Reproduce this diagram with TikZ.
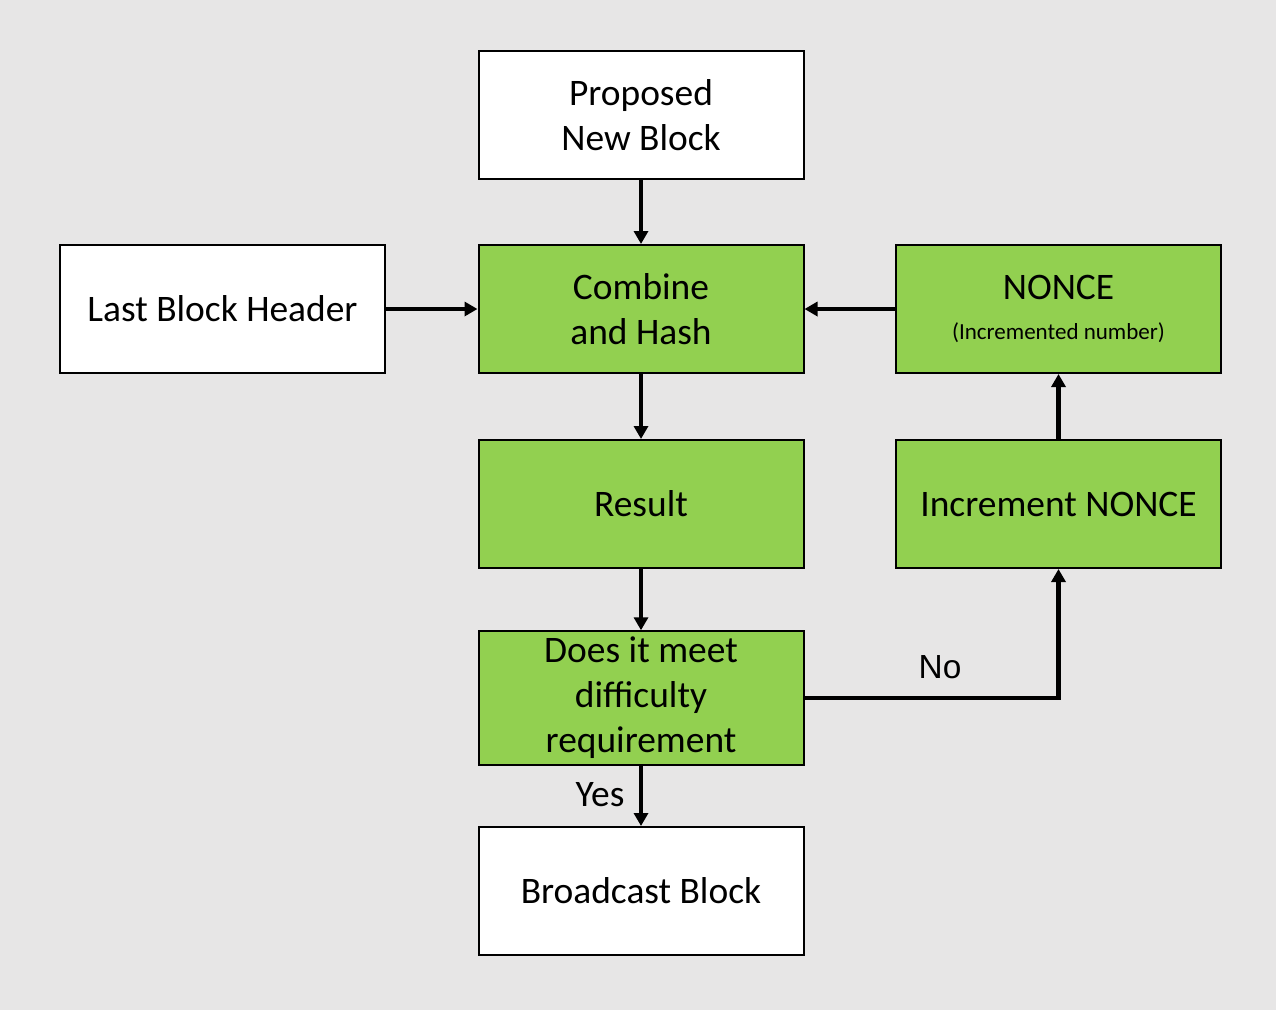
\documentclass[tikz,border=0pt]{standalone}
\usepackage{fontspec}
\setmainfont{Carlito}
\newfontfamily\arialfont{Liberation Sans}
\usepackage{xcolor}
\usetikzlibrary{positioning,arrows.meta}

\definecolor{bggray}{HTML}{E7E6E6}
\definecolor{minegreen}{HTML}{92D050}

\begin{document}
\begin{tikzpicture}[
    >={Triangle[length=0.26cm,width=0.28cm]},
    box/.style={rectangle, draw, line width=0.04cm, minimum width=6.5cm, minimum height=2.56cm, fill=white, align=center, font=\fontsize{21.3}{25.6}\selectfont},
    gbox/.style={box, fill=minegreen},
    flow/.style={->, line width=0.085cm},
    lbl/.style={font=\fontsize{21.3}{25.6}\selectfont}
]
% Background
\fill[bggray] (0,0) rectangle (25.52,-20.2);
\useasboundingbox (0,0) rectangle (25.52,-20.2);

% Inputs
\node[box] (prop) at (12.82,-2.3) {Proposed\\New Block};
\node[box] (last) at (4.45,-6.18) {Last Block Header};
\node[gbox] (comb) at (12.82,-6.18) {Combine\\and Hash};
\node[gbox] (nonce) at (21.17,-6.18) {NONCE\\[-0.1cm]{\fontsize{13.1}{15.5}\selectfont (Incremented number)}};
\draw[flow] (prop) -- (comb);
\draw[flow] (last) -- (comb);
\draw[flow] (nonce) -- (comb);

% Hash result and check
\node[gbox] (res) at (12.82,-10.08) {Result};
\node[gbox] (inc) at (21.17,-10.08) {Increment NONCE};
\node[gbox] (diff) at (12.82,-13.96) {Does it meet\\difficulty\\requirement};
\draw[flow] (comb) -- (res);
\draw[flow] (res) -- (diff);
\draw[flow] (inc) -- (nonce);
\draw[flow] (diff) -| (inc);

% Output
\node[box] (bcast) at (12.82,-17.82) {Broadcast Block};
\draw[flow] (diff) -- (bcast);

\node[lbl] (yes) at (12.0,-15.9) {Yes};
\node[font=\arialfont\fontsize{19}{22}\selectfont] (no) at (18.8,-13.34) {No};
\end{tikzpicture}
\end{document}
